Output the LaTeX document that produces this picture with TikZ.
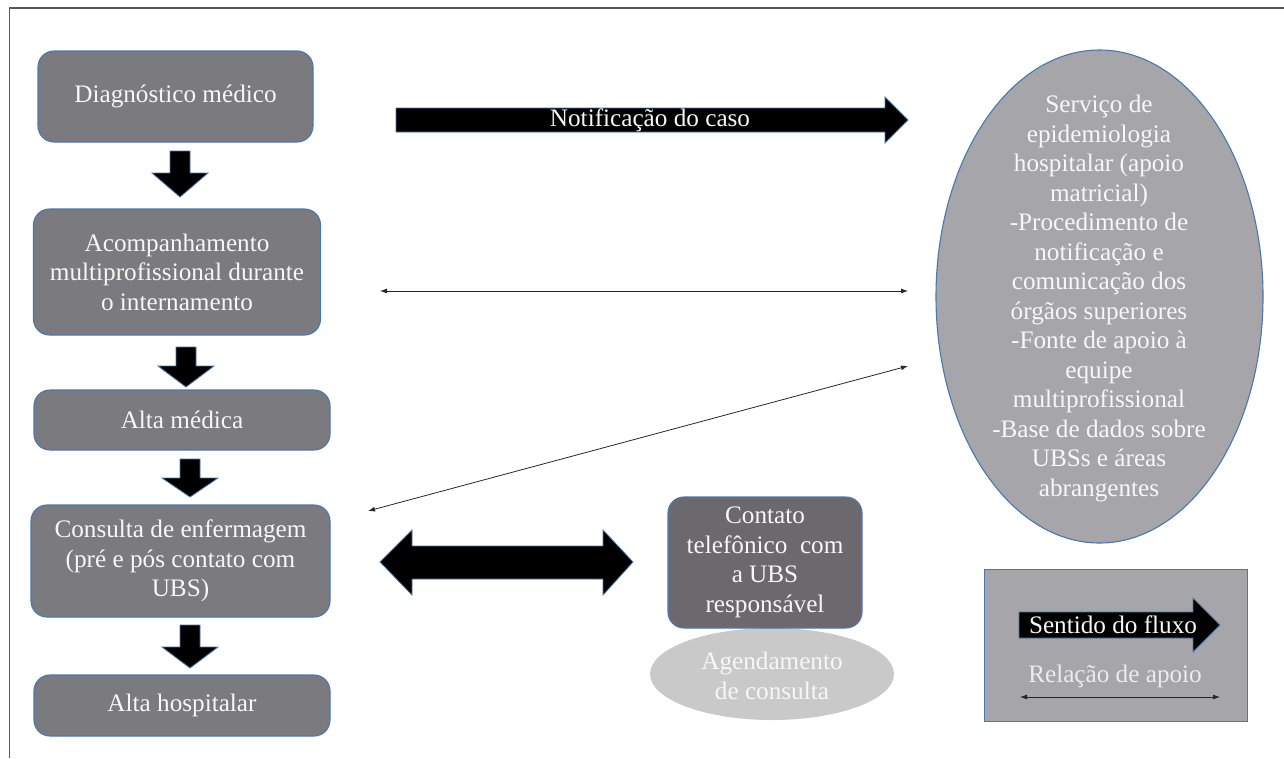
\documentclass[tikz,border=0pt]{standalone}
\usepackage{fontspec}
\setmainfont{Liberation Serif}
\newfontfamily\tnr{Liberation Serif}
\usetikzlibrary{arrows.meta,shapes.geometric}
\definecolor{boxgray}{HTML}{7A7A7F}
\definecolor{darkbox}{HTML}{6C696E}
\definecolor{ellgray}{HTML}{A6A5AA}
\definecolor{lightell}{HTML}{C9C9C9}
\definecolor{edgeblue}{HTML}{4A78AE}
\definecolor{txtwhite}{HTML}{F7F7F7}
\definecolor{relgray}{HTML}{ECECEC}
\definecolor{framegray}{HTML}{5A5A5A}
\begin{document}
\begin{tikzpicture}[x=1pt,y=-1pt,
  every node/.style={font=\tnr\fontsize{25.2}{29.5}\selectfont, text=txtwhite, align=center, inner sep=0pt},
  stepbox/.style={rectangle, rounded corners=16pt, draw=edgeblue, fill=boxgray, line width=1.1pt},
  blockarrow/.style={fill=black, draw=edgeblue, line width=0.8pt},
  thinarrow/.style={{Latex[length=7pt,width=5pt]}-{Latex[length=7pt,width=5pt]}, line width=0.8pt, draw=black!85}]
\useasboundingbox (0,0) rectangle (1284,758);
\draw[framegray, line width=1.5pt] (1284,8) -- (9.5,8) -- (9.5,758);

% left column
\node[stepbox, minimum width=275pt, minimum height=91pt] (diag) at (175.5,96.5) {Diagnóstico médico};
\node[stepbox, minimum width=287pt, minimum height=126pt] (acomp) at (177,272) {Acompanhamento\\multiprofissional durante\\o internamento};
\node[stepbox, minimum width=296pt, minimum height=60pt] (altam) at (182,420) {Alta médica};
\node[stepbox, minimum width=299pt, minimum height=112pt] (cons) at (180.5,561) {Consulta de enfermagem\\(pré e pós contato com\\UBS)};
\node[stepbox, minimum width=296pt, minimum height=61pt] (altah) at (182,705.5) {Alta hospitalar};

% down block arrows
\path[blockarrow] (170,151) -- (190,151) -- (190,173) -- (208,173) -- (180,197) -- (152,173) -- (170,173) -- cycle;
\path[blockarrow] (176,347) -- (196,347) -- (196,366) -- (214,366) -- (186,387) -- (158,366) -- (176,366) -- cycle;
\path[blockarrow] (180,459) -- (200,459) -- (200,478) -- (218,478) -- (190,497) -- (162,478) -- (180,478) -- cycle;
\path[blockarrow] (180,625) -- (200,625) -- (200,647) -- (218,647) -- (190,668) -- (162,647) -- (180,647) -- cycle;

% notification arrow
\path[blockarrow] (396,108) -- (885,108) -- (885,97) -- (908,120) -- (885,143) -- (885,132) -- (396,132) -- cycle;
\node (notif) at (650,120) {Notificação do caso};

% epidemiology ellipse
\node[ellipse, draw=edgeblue, fill=ellgray, line width=1.1pt, minimum width=327pt, minimum height=493pt] (epi) at (1099.5,296.5) {};
\node (epitext) at (1099,298.5) {Serviço de\\epidemiologia\\hospitalar (apoio\\matricial)\\-Procedimento de\\notificação e\\comunicação dos\\órgãos superiores\\-Fonte de apoio à\\equipe\\multiprofissional\\-Base de dados sobre\\UBSs e áreas\\abrangentes};

% support relations
\coordinate (a1) at (380,291);
\coordinate (b1) at (908,291);
\draw[thinarrow] (a1) -- (b1);
\coordinate (a2) at (368,511);
\coordinate (b2) at (908,366);
\draw[thinarrow] (a2) -- (b2);

% big double arrow
\path[blockarrow] (380,562) -- (412,530) -- (412,546) -- (603,546) -- (603,530) -- (633,562) -- (603,595) -- (603,579) -- (412,579) -- (412,595) -- cycle;

% telephone contact
\node[ellipse, fill=lightell, minimum width=244pt, minimum height=92pt] (agend) at (772,674) {};
\node (agendtext) at (772,676) {Agendamento\\de consulta};
\node[stepbox, fill=darkbox, minimum width=194pt, minimum height=131pt] (tel) at (765,562.5) {Contato\\telefônico\ \ com\\a UBS\\responsável};

% legend
\node[rectangle, draw=edgeblue, fill=ellgray, line width=1pt, minimum width=263pt, minimum height=152pt] (legend) at (1115.5,645) {};
\path[blockarrow] (1019,612) -- (1193,612) -- (1193,598) -- (1220,625) -- (1193,652) -- (1193,638) -- (1019,638) -- cycle;
\node (sentido) at (1113,625) {Sentido do fluxo};
\node[text=relgray] (relacao) at (1115,676) {Relação de apoio};
\coordinate (l1) at (1020,697);
\coordinate (l2) at (1220,697);
\draw[thinarrow] (l1) -- (l2);
\end{tikzpicture}
\end{document}
